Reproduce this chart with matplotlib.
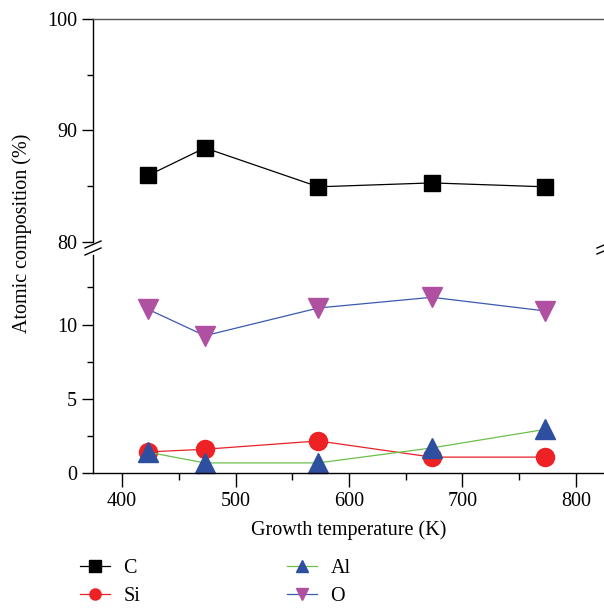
import matplotlib
matplotlib.use("Agg")
import matplotlib.pyplot as plt
from matplotlib.lines import Line2D
from matplotlib.ticker import MultipleLocator

plt.rcParams['font.family'] = ['Liberation Serif', 'DejaVu Serif']

temperature = [423, 473, 573, 673, 773]
c_vals = [85.97, 88.44, 84.95, 85.3, 84.95]
si_vals = [1.42, 1.60, 2.16, 1.07, 1.07]
al_vals = [1.4, 0.68, 0.68, 1.69, 2.94]
o_vals = [11.03, 9.25, 11.12, 11.84, 10.92]

W, H = 604, 610
fig = plt.figure(figsize=(W / 100, H / 100), dpi=100)
FS = 14.5

def frac_box(x0, y_top, x1, y_bot):
    return [x0 / W, 1 - y_bot / H, (x1 - x0) / W, (y_bot - y_top) / H]

ax_top = fig.add_axes(frac_box(93, 19, 604, 242))
ax_bot = fig.add_axes(frac_box(93, 255, 604, 473))

xlim = (374.4, 824.7)
for ax in (ax_top, ax_bot):
    ax.set_xlim(*xlim)
    ax.spines['right'].set_visible(False)
    ax.tick_params(direction='out', length=8, width=1, labelsize=FS, color='black')
    ax.tick_params(which='minor', direction='out', length=4.5, width=1)
    for s in ax.spines.values():
        s.set_linewidth(1)

ax_top.set_ylim(80, 100)
ax_top.spines['bottom'].set_visible(False)
ax_top.spines['top'].set_color('#555555')
ax_top.set_yticks([80, 90, 100])
ax_top.yaxis.set_minor_locator(MultipleLocator(5))
ax_top.tick_params(axis='x', which='both', bottom=False, labelbottom=False)

ax_bot.set_ylim(0, 14.69)
ax_bot.spines['top'].set_visible(False)
ax_bot.set_yticks([0, 5, 10])
ax_bot.yaxis.set_minor_locator(MultipleLocator(2.5))
ax_bot.set_xticks([400, 500, 600, 700, 800])
ax_bot.xaxis.set_minor_locator(MultipleLocator(50))
ax_bot.tick_params(axis='x', which='major', length=10)
ax_bot.tick_params(axis='x', which='minor', length=5)

lw = 0.9
hC, = ax_top.plot(temperature, c_vals, color='black', lw=lw, marker='s', ms=11,
                  mfc='black', mec='black', label='C')
hSi, = ax_bot.plot(temperature, si_vals, color='#e8212a', lw=lw, marker='o', ms=13,
                   mfc='#ee2224', mec='#ee2224', label='Si')
hAl, = ax_bot.plot(temperature, al_vals, color='#6cc04a', lw=lw, marker='^', ms=15,
                   mfc='#2e4fa0', mec='#2e4fa0', label='Al')
hO, = ax_bot.plot(temperature, o_vals, color='#3a5ab0', lw=lw, marker='v', ms=15,
                  mfc='#b050a0', mec='#b050a0', label='O')
for h in (hC, hSi, hAl, hO):
    h.set_clip_on(False)

# break marks
def fig_line(x0, y0, x1, y1):
    fig.add_artist(Line2D([x0 / W, x1 / W], [1 - y0 / H, 1 - y1 / H],
                          transform=fig.transFigure, color='black', lw=1))

fig_line(85, 248, 101, 241)
fig_line(85, 255, 101, 248)
fig_line(597, 248, 604, 245)
fig_line(597, 254, 604, 251)

fig.text(22 / W, 1 - 233 / H, 'Atomic composition (%)', rotation=90,
         ha='center', va='center', fontsize=FS)
fig.text(349 / W, 1 - 530 / H, 'Growth temperature (K)', ha='center',
         va='center', fontsize=FS)

leg_kw = dict(frameon=False, fontsize=FS, handlelength=1.5, handletextpad=0.65,
              labelspacing=0.45, borderpad=0, borderaxespad=0)
leg1 = fig.legend(handles=[hC, hSi], loc='upper left',
                  bbox_to_anchor=(80 / W, 1 - 559 / H), **leg_kw)
leg2 = fig.legend(handles=[hAl, hO], loc='upper left',
                  bbox_to_anchor=(287 / W, 1 - 559 / H), **leg_kw)
for leg in (leg1, leg2):
    for lh in leg.legend_handles:
        lh.set_markersize(8)

fig.savefig('out.png', dpi=100)
